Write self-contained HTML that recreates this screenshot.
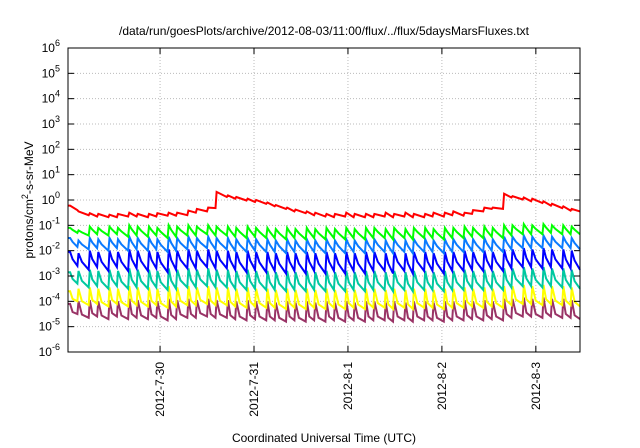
<!DOCTYPE html>
<html><head><meta charset="utf-8">
<style>
html,body{margin:0;padding:0;background:#fff;}
svg{display:block;font-family:"Liberation Sans",sans-serif;}
</style></head>
<body>
<svg id="chart" width="640" height="448" viewBox="0 0 640 448" xmlns="http://www.w3.org/2000/svg">
<rect width="640" height="448" fill="#fff"/>
<text x="324" y="35" font-size="12" text-anchor="middle" fill="#000">/data/run/goesPlots/archive/2012-08-03/11:00/flux/../flux/5daysMarsFluxes.txt</text>
<text x="324" y="442" font-size="12" text-anchor="middle" fill="#000">Coordinated Universal Time (UTC)</text>
<text transform="translate(33,200) rotate(-90)" font-size="12" text-anchor="middle" fill="#000">protons/cm<tspan dy="-5" font-size="9">2</tspan><tspan dy="5">-s-sr-MeV</tspan></text>
<g id="grid"></g>
<g id="series"></g>
<g id="axes"></g>
</svg>
<script>
const xTickLabels = ["2012-7-30","2012-7-31","2012-8-1","2012-8-2","2012-8-3"];
const xTickDays = [1,2,3,4,5];
const yTickExps = [-6,-5,-4,-3,-2,-1,0,1,2,3,4,5,6];
const toothTimes = [0.03,0.12,0.24,0.33,0.45,0.54,0.66,0.75,0.87,0.96,1.08,1.17,1.29,1.38,1.50,1.59,1.71,1.80,1.92,2.01,2.13,2.22,2.34,2.43,2.55,2.64,2.76,2.85,2.97,3.06,3.18,3.27,3.39,3.48,3.60,3.69,3.81,3.90,4.02,4.11,4.23,4.32,4.44,4.53,4.65,4.74,4.86,4.95,5.07,5.16,5.28,5.37];
const redPeaks = [-0.22,-0.45,-0.52,-0.55,-0.58,-0.55,-0.5,-0.55,-0.55,-0.52,-0.5,-0.5,-0.42,-0.35,-0.3,0.32,0.18,0.12,0.05,0.0,-0.1,-0.2,-0.3,-0.38,-0.45,-0.5,-0.55,-0.55,-0.5,-0.55,-0.55,-0.55,-0.5,-0.55,-0.5,-0.55,-0.55,-0.5,-0.5,-0.45,-0.5,-0.4,-0.3,-0.3,0.25,0.15,0.1,0.05,-0.05,-0.15,-0.25,-0.35];
const redTroughs = [-0.4,-0.6,-0.65,-0.68,-0.68,-0.65,-0.65,-0.68,-0.65,-0.62,-0.62,-0.6,-0.5,-0.45,-0.32,0.12,0.05,-0.02,-0.08,-0.15,-0.25,-0.35,-0.45,-0.52,-0.6,-0.65,-0.68,-0.65,-0.68,-0.68,-0.68,-0.65,-0.68,-0.65,-0.68,-0.68,-0.65,-0.65,-0.6,-0.62,-0.55,-0.45,-0.35,-0.35,0.1,0.02,-0.05,-0.12,-0.22,-0.32,-0.42,-0.45];
const greenPeaks = [-1.1,-1.2,-1.05,-1.1,-1.05,-1.1,-1.0,-1.05,-1.05,-1.1,-1.0,-1.05,-1.0,-1.05,-1.0,-1.05,-1.05,-1.1,-1.05,-1.1,-1.1,-1.15,-1.1,-1.15,-1.1,-1.15,-1.1,-1.15,-1.1,-1.15,-1.1,-1.1,-1.15,-1.1,-1.15,-1.1,-1.1,-1.15,-1.1,-1.1,-1.05,-1.1,-1.05,-1.1,-1.0,-1.0,-0.95,-1.0,-0.95,-1.0,-1.0,-1.05];
const greenTroughs = [-1.3,-1.4,-1.35,-1.4,-1.35,-1.45,-1.4,-1.45,-1.4,-1.5,-1.45,-1.4,-1.4,-1.35,-1.4,-1.4,-1.45,-1.5,-1.45,-1.5,-1.5,-1.55,-1.5,-1.55,-1.5,-1.55,-1.5,-1.55,-1.5,-1.55,-1.5,-1.5,-1.55,-1.5,-1.55,-1.5,-1.5,-1.55,-1.5,-1.5,-1.45,-1.5,-1.45,-1.5,-1.4,-1.35,-1.35,-1.35,-1.3,-1.35,-1.35,-1.35];
const skyPeaks = [-1.5,-1.6,-1.5,-1.55,-1.5,-1.55,-1.45,-1.5,-1.5,-1.55,-1.45,-1.5,-1.45,-1.5,-1.45,-1.5,-1.5,-1.55,-1.5,-1.55,-1.55,-1.6,-1.55,-1.6,-1.55,-1.6,-1.55,-1.6,-1.55,-1.6,-1.55,-1.55,-1.6,-1.55,-1.6,-1.55,-1.55,-1.6,-1.55,-1.55,-1.5,-1.55,-1.5,-1.55,-1.45,-1.45,-1.4,-1.45,-1.4,-1.45,-1.45,-1.5];
const skyTroughs = [-1.85,-1.95,-1.9,-2.0,-1.9,-2.0,-1.95,-2.0,-1.95,-2.05,-2.0,-1.95,-1.95,-1.9,-1.95,-1.95,-2.0,-2.05,-2.0,-2.05,-2.05,-2.1,-2.05,-2.1,-2.05,-2.1,-2.05,-2.1,-2.05,-2.1,-2.05,-2.05,-2.1,-2.05,-2.1,-2.05,-2.05,-2.1,-2.05,-2.05,-2.0,-2.05,-2.0,-2.05,-1.95,-1.9,-1.9,-1.9,-1.85,-1.9,-1.9,-1.95];
const bluePeaks = [-2.05,-2.1,-2.0,-2.05,-2.0,-2.05,-1.95,-2.0,-2.0,-2.05,-1.95,-2.0,-1.95,-2.0,-1.95,-2.0,-2.0,-2.05,-2.0,-2.05,-2.05,-2.1,-2.05,-2.1,-2.05,-2.1,-2.05,-2.1,-2.05,-2.1,-2.05,-2.05,-2.1,-2.05,-2.1,-2.05,-2.05,-2.1,-2.05,-2.05,-2.0,-2.05,-2.0,-2.05,-1.95,-1.95,-1.9,-1.95,-1.9,-1.95,-1.95,-2.0];
const blueTroughs = [-2.6,-2.75,-2.65,-2.8,-2.65,-2.8,-2.7,-2.8,-2.7,-2.85,-2.75,-2.7,-2.7,-2.65,-2.7,-2.7,-2.75,-2.85,-2.75,-2.85,-2.8,-2.9,-2.8,-2.9,-2.8,-2.9,-2.8,-2.9,-2.8,-2.9,-2.8,-2.8,-2.9,-2.8,-2.9,-2.8,-2.8,-2.9,-2.8,-2.8,-2.75,-2.8,-2.75,-2.8,-2.7,-2.65,-2.65,-2.7,-2.65,-2.7,-2.7,-2.75];
const tealPeaks = [-2.85,-2.8,-2.75,-2.8,-2.75,-2.8,-2.7,-2.75,-2.75,-2.8,-2.7,-2.75,-2.7,-2.75,-2.7,-2.75,-2.75,-2.8,-2.75,-2.8,-2.8,-2.85,-2.8,-2.85,-2.8,-2.85,-2.8,-2.85,-2.8,-2.85,-2.8,-2.8,-2.85,-2.8,-2.85,-2.8,-2.8,-2.85,-2.8,-2.8,-2.75,-2.8,-2.75,-2.8,-2.7,-2.7,-2.65,-2.7,-2.65,-2.7,-2.7,-2.75];
const tealTroughs = [-3.3,-3.45,-3.4,-3.5,-3.4,-3.5,-3.45,-3.5,-3.45,-3.55,-3.5,-3.45,-3.45,-3.4,-3.45,-3.45,-3.5,-3.55,-3.5,-3.55,-3.55,-3.6,-3.55,-3.6,-3.55,-3.6,-3.55,-3.6,-3.55,-3.6,-3.55,-3.55,-3.6,-3.55,-3.6,-3.55,-3.55,-3.6,-3.55,-3.55,-3.5,-3.55,-3.5,-3.55,-3.45,-3.4,-3.4,-3.45,-3.4,-3.45,-3.45,-3.5];
const yellowPeaks = [-3.6,-3.5,-3.45,-3.5,-3.45,-3.5,-3.4,-3.45,-3.45,-3.5,-3.4,-3.45,-3.4,-3.45,-3.4,-3.45,-3.45,-3.5,-3.45,-3.5,-3.5,-3.55,-3.5,-3.55,-3.5,-3.55,-3.5,-3.55,-3.5,-3.55,-3.5,-3.5,-3.55,-3.5,-3.55,-3.5,-3.5,-3.55,-3.5,-3.5,-3.45,-3.5,-3.45,-3.5,-3.4,-3.4,-3.35,-3.4,-3.35,-3.4,-3.4,-3.45];
const yellowTroughs = [-4.0,-4.15,-4.1,-4.2,-4.1,-4.2,-4.15,-4.2,-4.15,-4.25,-4.2,-4.15,-4.15,-4.1,-4.15,-4.15,-4.2,-4.25,-4.2,-4.25,-4.25,-4.3,-4.25,-4.3,-4.25,-4.3,-4.25,-4.3,-4.25,-4.3,-4.25,-4.25,-4.3,-4.25,-4.3,-4.25,-4.25,-4.3,-4.25,-4.25,-4.2,-4.25,-4.2,-4.25,-4.15,-4.1,-4.1,-4.15,-4.1,-4.15,-4.15,-4.2];
const purplePeaks = [-4.1,-4.0,-3.95,-4.0,-3.95,-4.0,-3.9,-3.95,-3.95,-4.0,-3.9,-3.95,-3.9,-3.95,-3.9,-3.95,-3.95,-4.0,-3.95,-4.0,-4.0,-4.05,-4.0,-4.05,-4.0,-4.05,-4.0,-4.05,-4.0,-4.05,-4.0,-4.0,-4.05,-4.0,-4.05,-4.0,-4.0,-4.05,-4.0,-4.0,-3.95,-4.0,-3.95,-4.0,-3.9,-3.9,-3.85,-3.9,-3.85,-3.9,-3.9,-3.95];
const purpleTroughs = [-4.5,-4.65,-4.6,-4.7,-4.6,-4.7,-4.65,-4.7,-4.65,-4.75,-4.7,-4.65,-4.65,-4.6,-4.65,-4.65,-4.7,-4.75,-4.7,-4.75,-4.75,-4.8,-4.75,-4.8,-4.75,-4.8,-4.75,-4.8,-4.75,-4.8,-4.75,-4.75,-4.8,-4.75,-4.8,-4.75,-4.75,-4.8,-4.75,-4.75,-4.7,-4.75,-4.7,-4.75,-4.65,-4.6,-4.6,-4.65,-4.6,-4.65,-4.65,-4.7];

const NS = "http://www.w3.org/2000/svg";
const L = 68, R = 580, T = 48, B = 352;
const dayMin = 0.02, dayMax = 5.47;
const xS = d => L + (d - dayMin) / (dayMax - dayMin) * (R - L);
const yS = e => B - (e + 6) / 12 * (B - T);

function mk(tag, attrs, parent) {
  const el = document.createElementNS(NS, tag);
  for (const k in attrs) el.setAttribute(k, attrs[k]);
  parent.appendChild(el);
  return el;
}
const grid = document.getElementById('grid');
const axes = document.getElementById('axes');
const seriesG = document.getElementById('series');

yTickExps.forEach((e, i) => {
  const y = yS(e);
  if (i > 0 && i < yTickExps.length - 1) {
    const g = mk('line', {x1: L, x2: R, y1: y, y2: y, stroke: '#bbb', 'stroke-width': 1, 'stroke-dasharray': '1,2'}, grid);
    
    
  }
  const t1 = mk('line', {x1: L, x2: L + 6, y1: y, y2: y, stroke: '#000'}, axes);
  
  
  const t2 = mk('line', {x1: R - 6, x2: R, y1: y, y2: y, stroke: '#000'}, axes);
  
  
  const tx = mk('text', {x: 60, y: y + 4, 'font-size': 12, 'text-anchor': 'end', fill: '#000'}, axes);
  
  
  tx.appendChild(document.createTextNode('10'));
  const sup = mk('tspan', {dy: -6, 'font-size': 9}, tx);
  sup.textContent = String(e);
  if (e >= 0) { tx.setAttribute('x', 60); }
});

xTickDays.forEach((d, i) => {
  const x = xS(d);
  const g = mk('line', {x1: x, x2: x, y1: T, y2: B, stroke: '#bbb', 'stroke-width': 1, 'stroke-dasharray': '1,2'}, grid);
  
  
  const t1 = mk('line', {x1: x, x2: x, y1: B - 6, y2: B, stroke: '#000'}, axes);
  
  
  const t2 = mk('line', {x1: x, x2: x, y1: T, y2: T + 6, stroke: '#000'}, axes);
  
  
  const tx = mk('text', {transform: `translate(${x + 4},362) rotate(-90)`, 'font-size': 12, 'text-anchor': 'end', fill: '#000'}, axes);
  
  
  tx.textContent = xTickLabels[i];
});

const frame = mk('rect', {x: L, y: T, width: R - L, height: B - T, fill: 'none', stroke: '#000', 'stroke-width': 1}, axes);



const seriesDefs = [
  {name: 'series-purple', color: '#993366', peaks: purplePeaks, troughs: purpleTroughs, curve: 0.75},
  {name: 'series-yellow', color: '#ffff00', peaks: yellowPeaks, troughs: yellowTroughs, curve: 0.7},
  {name: 'series-teal', color: '#00c8a0', peaks: tealPeaks, troughs: tealTroughs, curve: 0.5},
  {name: 'series-blue', color: '#0000ff', peaks: bluePeaks, troughs: blueTroughs, curve: 0.4},
  {name: 'series-lightblue', color: '#0a7aff', peaks: skyPeaks, troughs: skyTroughs, curve: 0.3},
  {name: 'series-green', color: '#00ff00', peaks: greenPeaks, troughs: greenTroughs, curve: 0.25},
  {name: 'series-red', color: '#ff0000', peaks: redPeaks, troughs: redTroughs, curve: 0}
];

seriesDefs.forEach(s => {
  const pts = [];
  const n = toothTimes.length;
  pts.push([xS(dayMin), yS(s.peaks[0])]);
  for (let i = 0; i < n; i++) {
    const t0 = toothTimes[i];
    const t1 = i + 1 < n ? toothTimes[i + 1] : dayMax;
    if (i > 0) {
      pts.push([xS(t0), yS(s.troughs[i - 1])]);
      pts.push([xS(t0 + 0.012), yS(s.peaks[i])]);
    } else {
      pts.push([xS(t0 + 0.012), yS(s.peaks[i])]);
    }
    const pk = s.peaks[i], tr = s.troughs[i];
    if (s.curve > 0) {
      const tm = t0 + 0.012 + (t1 - t0) * 0.3;
      pts.push([xS(tm), yS(tr + (pk - tr) * (1 - s.curve) * 0.8)]);
    }
    pts.push([xS(Math.min(t1, dayMax)), yS(tr)]);
  }
  const clipped = pts.filter(p => p[0] <= R + 0.5);
  const pl = mk('polyline', {points: clipped.map(p => p[0].toFixed(1) + ',' + p[1].toFixed(1)).join(' '), fill: 'none', stroke: s.color, 'stroke-width': 2, 'stroke-linejoin': 'miter'}, seriesG);
  
  
});
</script>
</body></html>
